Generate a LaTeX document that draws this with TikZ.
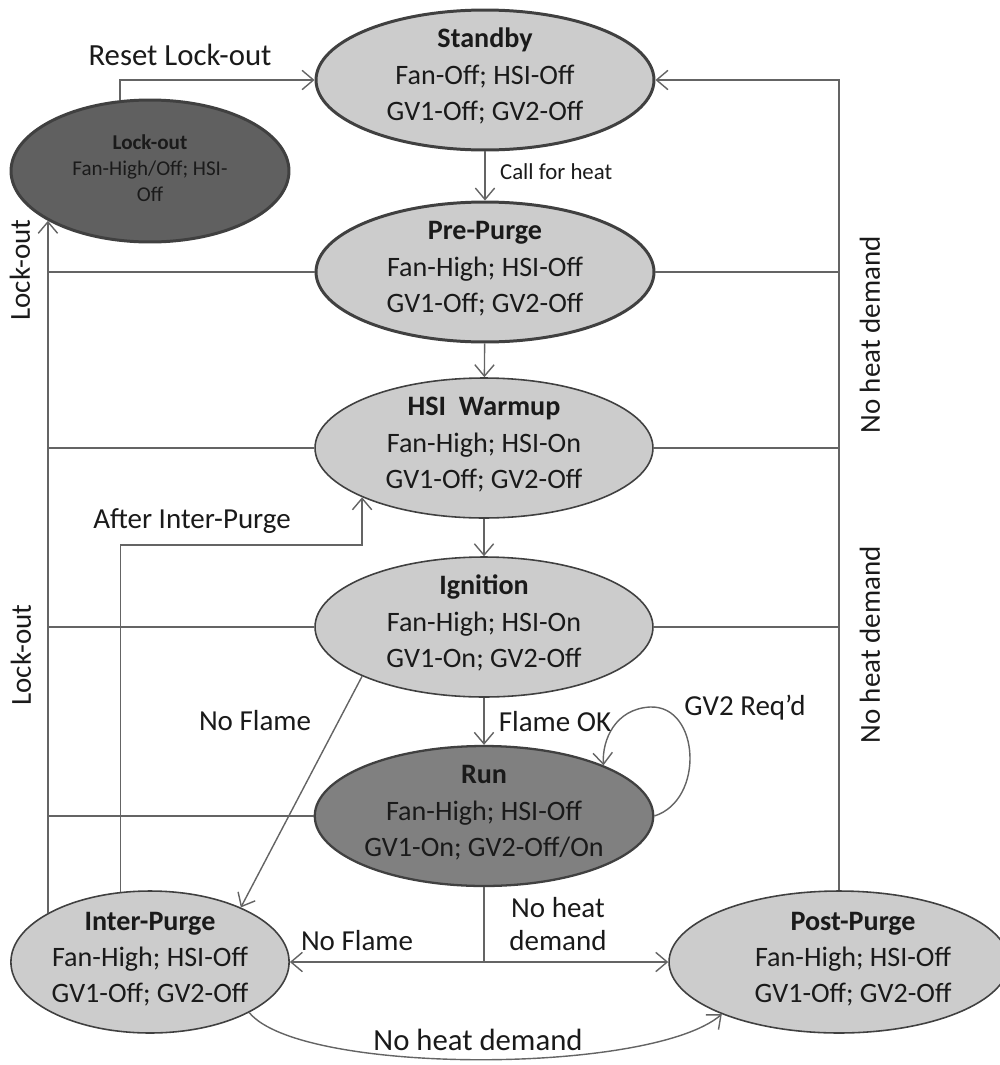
\documentclass[tikz,border=0pt]{standalone}
\usepackage{fontspec}
\setmainfont{Carlito}
\usetikzlibrary{arrows.meta,shapes.geometric}
\definecolor{stline}{RGB}{64,64,64}
\definecolor{stfill}{RGB}{204,204,204}
\definecolor{stdark}{RGB}{128,128,128}
\definecolor{stlock}{RGB}{96,96,96}
\definecolor{wire}{RGB}{100,100,100}
\definecolor{ink}{RGB}{26,26,26}
\newcommand{\sttext}[3]{\smash{\raisebox{-2.5pt}{\begin{tabular}{@{}c@{}}\textbf{#1}\\#2\\#3\end{tabular}}}}
\tikzset{
  st/.style  ={ellipse, draw=stline, fill=stfill, line width=0.9pt, inner sep=0pt,
               minimum width=6.76cm, minimum height=2.8cm, text=ink,
               font=\fontsize{16}{20.5}\selectfont},
  stb/.style ={st, line width=1.7pt},
  stsm/.style={st, minimum width=5.56cm, minimum height=2.84cm},
  wr/.style  ={draw=wire, line width=0.8pt},
  arr/.style ={wr, -{Straight Barb[length=6.5pt,width=11pt]}},
  lbl/.style ={font=\fontsize{16.5}{20}\selectfont, text=ink, inner sep=1pt},
}

\begin{document}
\begin{tikzpicture}[x=0.02cm, y=-0.02cm]
  \useasboundingbox (0,0) rectangle (1000,1065);
  % states
  \node[stb] (standby) at (485,80) {\sttext{Standby}{Fan-Off; HSI-Off}{GV1-Off; GV2-Off}};
  \node[stsm, line width=1.7pt, fill=stlock, font=\fontsize{12}{15}\selectfont]
    (lockout) at (150,171) {\sttext{Lock-out}{Fan-High/Off; HSI-}{Off}};
  \node[stb] (prepurge) at (485,272) {\sttext{Pre-Purge}{Fan-High; HSI-Off}{GV1-Off; GV2-Off}};
  \node[st] (hsi) at (484,448) {\sttext{HSI\ \ Warmup}{Fan-High; HSI-On}{GV1-Off; GV2-Off}};
  \node[st] (ignition) at (484,627) {\sttext{Ignition}{Fan-High; HSI-On}{GV1-On; GV2-Off}};
  \node[st, fill=stdark, line width=1.3pt] (run) at (484,816) {\sttext{Run}{Fan-High; HSI-Off}{GV1-On; GV2-Off/On}};
  \node[stsm] (interpurge) at (150,962) {\sttext{Inter-Purge}{Fan-High; HSI-Off}{GV1-Off; GV2-Off}};
  \node[st, minimum width=6.8cm, minimum height=2.84cm] (postpurge) at (839,962)
    {\hspace*{16pt}\sttext{Post-Purge}{Fan-High; HSI-Off}{GV1-Off; GV2-Off}};

  % main chain
  \draw[arr] (lockout.113) |- (standby.west);
  \draw[arr] (standby) -- (prepurge);
  \draw[arr] (prepurge) -- (hsi);
  \draw[arr] (hsi) -- (ignition);
  \draw[arr] (ignition) -- (run);
  \draw[arr] (run.east) .. controls (705,800) and (700,705) .. (650,707)
             .. controls (615,709) and (602,740) .. (run.23);

  % lock-out bus
  \draw[arr] (lockout.206 |- interpurge.154) -- (lockout.206);
  \draw[wr] (prepurge.west) -- (prepurge.west -| lockout.206);
  \draw[wr] (hsi.west) -- (hsi.west -| lockout.206);
  \draw[wr] (ignition.west) -- (ignition.west -| lockout.206);
  \draw[wr] (run.west) -- (run.west -| lockout.206);

  % no heat demand bus
  \draw[arr] (postpurge.north) |- (standby.east);
  \draw[wr] (prepurge.east) -- (prepurge.east -| postpurge.north);
  \draw[wr] (hsi.east) -- (hsi.east -| postpurge.north);
  \draw[wr] (ignition.east) -- (ignition.east -| postpurge.north);

  % purge paths
  \draw[arr] (interpurge.113) -- ++(0,-347) -| (hsi.202);
  \draw[arr] (ignition.202) -- (interpurge.31);
  \coordinate (split) at (run.south |- interpurge.east);
  \draw[wr] (run.south) -- (split);
  \draw[arr] (split) -- (interpurge.east);
  \draw[arr] (split) -- (postpurge.west);
  \draw[arr] (interpurge.333) .. controls (300,1075) and (650,1075) .. (postpurge.204);

  % labels
  \node[lbl, font=\fontsize{17.5}{20}\selectfont] (lreset) at (180,55) {Reset Lock-out};
  \node[lbl, font=\fontsize{13}{16}\selectfont, anchor=west] (lcall) at (498,172) {Call for heat};
  \node[lbl, rotate=90] (llock1) at (20,270) {Lock-out};
  \node[lbl, rotate=90] (llock2) at (21,655) {Lock-out};
  \node[lbl, rotate=90] (lnhd1) at (870,335) {No heat demand};
  \node[lbl, rotate=90] (lnhd2) at (870,645) {No heat demand};
  \node[lbl] (lafter) at (192,521) {After Inter-Purge};
  \node[lbl] (lnf1) at (255,721) {No Flame};
  \node[lbl] (lok) at (555,722) {Flame OK};
  \node[lbl] (lgv2) at (745,708) {GV2 Req'd};
  \node[lbl] (lnf2) at (357,941) {No Flame};
  \node[lbl, align=center, font=\fontsize{16.5}{19}\selectfont] (lnhd3) at (558,924) {No heat\\demand};
  \node[lbl, font=\fontsize{17.5}{20}\selectfont] (lnhd4) at (478,1040) {No heat demand};
\end{tikzpicture}
\end{document}
